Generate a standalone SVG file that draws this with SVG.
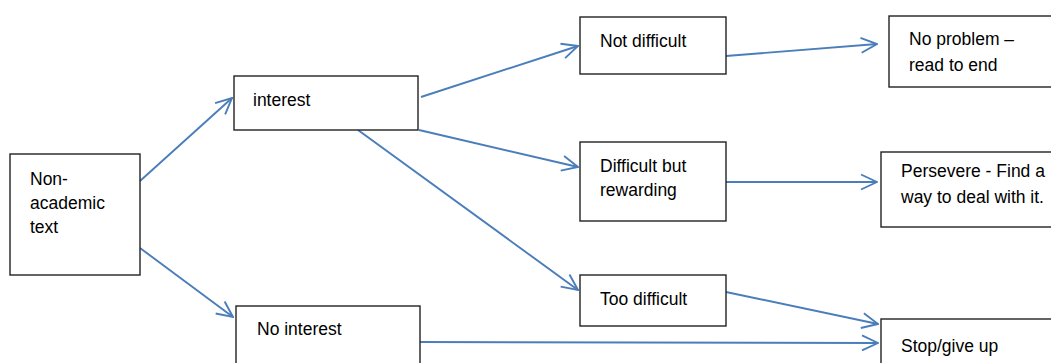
<svg xmlns="http://www.w3.org/2000/svg" width="1051" height="363" viewBox="0 0 1051 363">
  <style>
    .box { fill: #ffffff; stroke: #222222; stroke-width: 1.4; }
    .label { font-family: "Liberation Sans", Arial, sans-serif; font-size: 17.5px; fill: #000000; }
    .link { fill: none; stroke: #4a7ebb; stroke-width: 1.9; }
  </style>
  <defs>
    <marker id="arrow" viewBox="0 0 18 18" refX="17" refY="9" markerWidth="18" markerHeight="18" markerUnits="userSpaceOnUse" orient="auto">
      <path d="M1,1.5 L17,9 L1,16.5" fill="none" stroke="#4a7ebb" stroke-width="1.9"/>
    </marker>
  </defs>

  <!-- connectors -->
  <g id="connectors">
    <line class="link" x1="140" y1="181" x2="232" y2="98" marker-end="url(#arrow)"/>
    <line class="link" x1="140" y1="248" x2="233" y2="317" marker-end="url(#arrow)"/>
    <line class="link" x1="421" y1="97" x2="578" y2="46" marker-end="url(#arrow)"/>
    <line class="link" x1="419" y1="130" x2="578" y2="167" marker-end="url(#arrow)"/>
    <line class="link" x1="358" y1="130" x2="578" y2="290" marker-end="url(#arrow)"/>
    <line class="link" x1="726" y1="56" x2="877" y2="44" marker-end="url(#arrow)"/>
    <line class="link" x1="726" y1="182" x2="877" y2="182" marker-end="url(#arrow)"/>
    <line class="link" x1="726" y1="292" x2="878" y2="324" marker-end="url(#arrow)"/>
    <line class="link" x1="420" y1="342" x2="878" y2="343" marker-end="url(#arrow)"/>
  </g>

  <g id="non-academic">
    <rect class="box" x="10" y="154" width="130" height="121"/>
    <text class="label" x="30" y="185">Non-</text>
    <text class="label" x="30" y="209">academic</text>
    <text class="label" x="30" y="233">text</text>
  </g>

  <g id="interest">
    <rect class="box" x="234" y="76" width="184" height="54"/>
    <text class="label" x="253" y="106">interest</text>
  </g>

  <g id="no-interest">
    <rect class="box" x="236" y="306" width="184" height="70"/>
    <text class="label" x="257" y="335">No interest</text>
  </g>

  <g id="not-difficult">
    <rect class="box" x="580" y="17" width="146" height="57"/>
    <text class="label" x="600" y="47">Not difficult</text>
  </g>

  <g id="difficult-rewarding">
    <rect class="box" x="580" y="142" width="146" height="79"/>
    <text class="label" x="600" y="172">Difficult but</text>
    <text class="label" x="600" y="196">rewarding</text>
  </g>

  <g id="too-difficult">
    <rect class="box" x="580" y="275" width="146" height="51"/>
    <text class="label" x="600" y="305">Too difficult</text>
  </g>

  <g id="no-problem">
    <rect class="box" x="889" y="16" width="170" height="71"/>
    <text class="label" x="909" y="45">No problem –</text>
    <text class="label" x="909" y="71">read to end</text>
  </g>

  <g id="persevere">
    <rect class="box" x="881" y="152" width="178" height="75"/>
    <text class="label" x="901" y="177">Persevere - Find a</text>
    <text class="label" x="901" y="203">way to deal with it.</text>
  </g>

  <g id="stop">
    <rect class="box" x="881" y="319" width="178" height="60"/>
    <text class="label" x="901" y="352">Stop/give up</text>
  </g>
</svg>
